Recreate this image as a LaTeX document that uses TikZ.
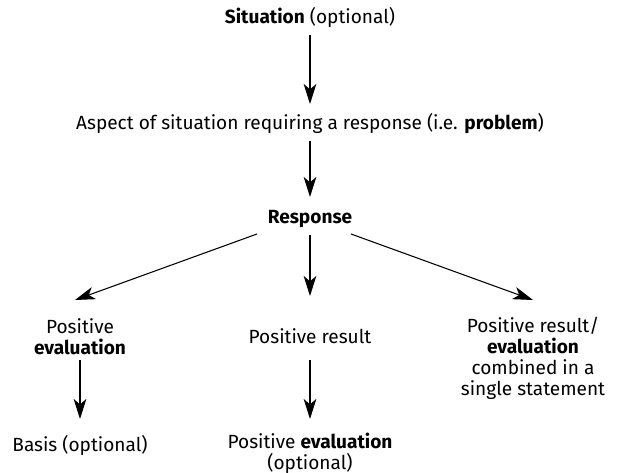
\documentclass[tikz,border=0pt]{standalone}
\usepackage{fontspec}
\setmainfont{Fira Sans}
\usetikzlibrary{arrows.meta}

\begin{document}
\begin{tikzpicture}[
  x=0.75pt,y=-0.75pt,
  font=\fontsize{14.3}{15.75}\selectfont,>={Stealth[length=15pt,width=9.5pt,inset=4pt]},
  t/.style={align=center,inner sep=1pt},
  arr/.style={->,line width=0.8pt}
]
\useasboundingbox (0,0) rectangle (619,473);
\node[t] (sit) at (310,17) {\textbf{Situation} (optional)};
\node[t] (asp) at (310,124) {Aspect of situation requiring a response (i.e. \textbf{problem})};
\node[t] (resp) at (310,219) {\textbf{Response}};
\node[t] (peval) at (80,337) {Positive\\\textbf{evaluation}};
\node[t] (pres) at (310,336) {Positive result};
\node[t] (comb) at (533,358) {Positive result/\\\textbf{evaluation}\\combined in a\\single statement};
\node[t] (basis) at (80,445) {Basis (optional)};
\node[t] (peval2) at (310,453) {Positive \textbf{evaluation}\\(optional)};
\coordinate (lend) at (75,300);
\coordinate (rend) at (533,300);
\draw[arr] (310,35) -- (310,104);
\draw[arr] (310,141) -- (310,197);
\draw[arr] (257,234) -- (lend);
\draw[arr] (351,234) -- (rend);
\draw[arr] (310,235) -- (310,296);
\draw[arr] (80,360) -- (80,419);
\draw[arr] (310,360) -- (310,419);
\end{tikzpicture}
\end{document}
